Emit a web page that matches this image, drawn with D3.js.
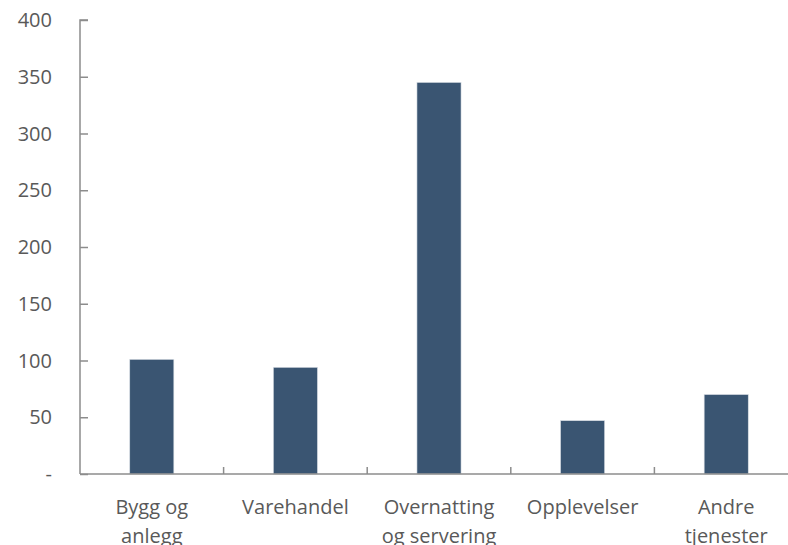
<!DOCTYPE html>
<html>
<head>
<meta charset="utf-8">
<script src="https://cdn.jsdelivr.net/npm/d3@7"></script>
<style>
  html, body { margin: 0; padding: 0; background: #ffffff; }
  svg { display: block; }
  text { font-family: "Open Sans", "Liberation Sans", sans-serif; fill: #595959; }
</style>
</head>
<body>
<svg id="chart" width="788" height="545"></svg>
<script>
// Categories (label lines) and values
const categories = ["Bygg og anlegg", "Varehandel", "Overnatting og servering", "Opplevelser", "Andre tjenester"];
const categoryLines = [["Bygg og", "anlegg"], ["Varehandel"], ["Overnatting", "og servering"], ["Opplevelser"], ["Andre", "tjenester"]];
const values = [101, 94, 345, 47, 70];
const yTicks = [0, 50, 100, 150, 200, 250, 300, 350, 400];
const yTickLabels = ["-", "50", "100", "150", "200", "250", "300", "350", "400"];

const svg = d3.select("#chart");
const margin = { left: 80, top: 20, right: -10, bottom: 71 };
const W = 788, H = 545;
const axisColor = "#8c8c8c";
const barColor = "#3a5572";

const x = d3.scaleBand()
  .domain(categories)
  .range([margin.left, W - margin.right])
  .paddingInner(0).paddingOuter(0);

const y = d3.scaleLinear()
  .domain([0, 400])
  .range([H - margin.bottom, margin.top]);

const barW = x.bandwidth() * 0.307;

// Bars
svg.append("g").selectAll("rect")
  .data(values)
  .join("rect")
  .attr("x", (d, i) => x(categories[i]) + x.bandwidth() / 2 - barW / 2)
  .attr("y", d => y(d))
  .attr("width", barW)
  .attr("height", d => y(0) - y(d))
  .attr("fill", barColor)
  .attr("stroke", "#d9dee4")
  .attr("stroke-width", 0.6);

// Y axis: ticks point into the plot
const yAxis = svg.append("g")
  .attr("transform", `translate(${margin.left},0)`)
  .call(d3.axisRight(y).tickValues(yTicks).tickSize(8).tickFormat(""));
yAxis.select(".domain").attr("stroke", axisColor).attr("stroke-width", 1.5)
  .attr("d", `M8,${y(400)}H0V${y(0)}`);
yAxis.selectAll(".tick line").attr("stroke", axisColor).attr("stroke-width", 1.5);

svg.append("g").selectAll("text")
  .data(yTicks)
  .join("text")
  .attr("x", 52)
  .attr("y", d => y(d))
  .attr("dy", "0.35em")
  .attr("text-anchor", "end")
  .style("font-size", "20px")
  .text((d, i) => yTickLabels[i]);

// X axis with category separators pointing up
const xAxis = svg.append("g")
  .attr("transform", `translate(0,${y(0)})`);
xAxis.append("line")
  .attr("x1", margin.left).attr("x2", W)
  .attr("stroke", axisColor).attr("stroke-width", 1.5);
xAxis.selectAll("line.sep")
  .data(categories.slice(1))
  .join("line")
  .attr("class", "sep")
  .attr("x1", d => x(d)).attr("x2", d => x(d))
  .attr("y1", 0).attr("y2", -7)
  .attr("stroke", axisColor).attr("stroke-width", 1.5);

// Category labels
const lab = svg.append("g").selectAll("text")
  .data(categories)
  .join("text")
  .attr("text-anchor", "middle")
  .style("font-size", "20px")
  .attr("transform", d => `translate(${x(d) + x.bandwidth() / 2},${y(0) + 40})`);
lab.each(function(d, i) {
  d3.select(this).selectAll("tspan")
    .data(categoryLines[i])
    .join("tspan")
    .attr("x", 0)
    .attr("dy", (t, j) => j === 0 ? 0 : 29)
    .text(t => t);
});
</script>
</body>
</html>
